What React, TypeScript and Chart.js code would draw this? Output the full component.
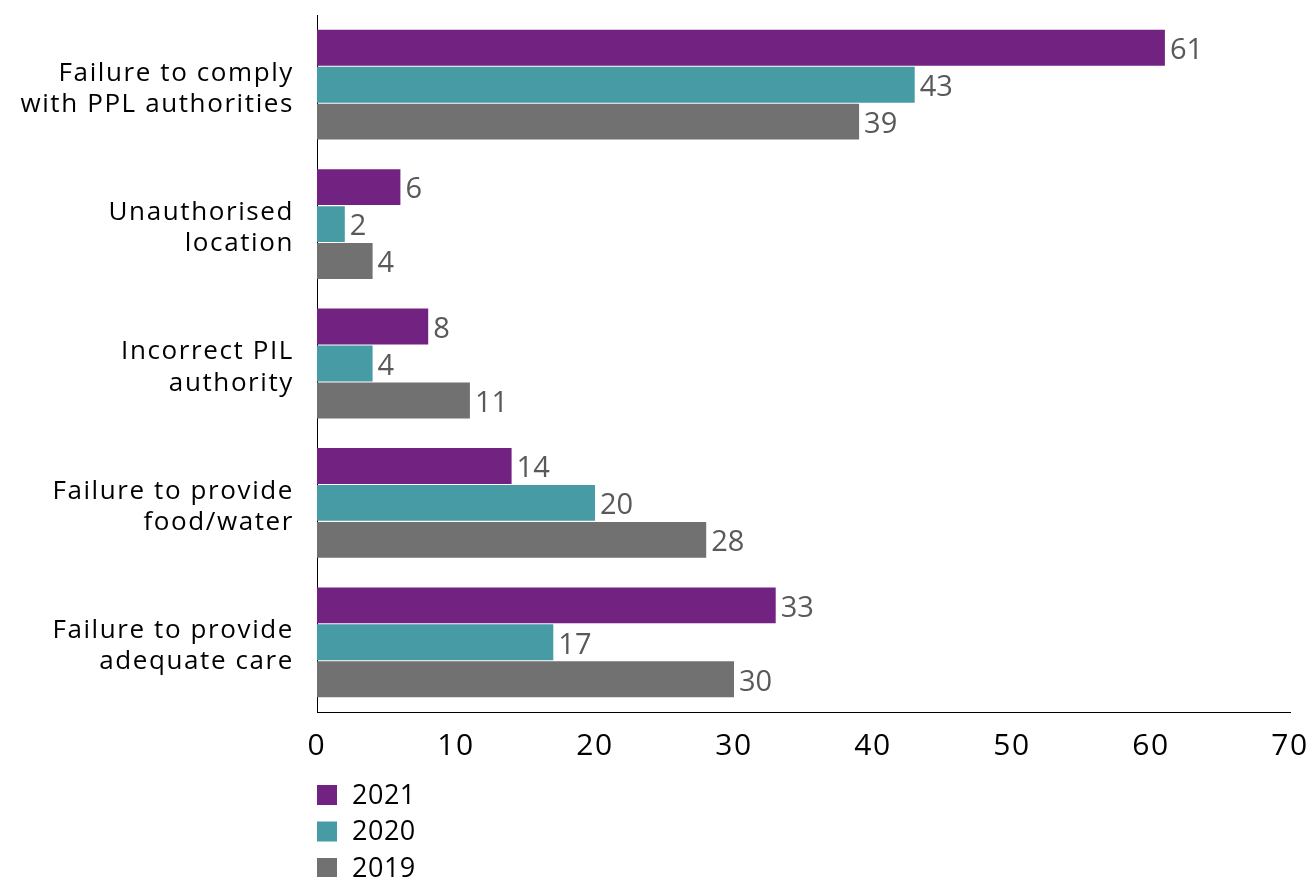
import React, { useEffect, useRef } from "react";
import { Chart, registerables } from "chart.js";

Chart.register(...registerables);

const categories: string[][] = [
  ["Failure to comply", "with PPL authorities"],
  ["Unauthorised", "location"],
  ["Incorrect PIL", "authority"],
  ["Failure to provide", "food/water"],
  ["Failure to provide", "adequate care"],
];
const values2021: number[] = [61, 6, 8, 14, 33];
const values2020: number[] = [43, 2, 4, 20, 17];
const values2019: number[] = [39, 4, 11, 28, 30];
const seriesLabels: string[] = ["2021", "2020", "2019"];
const seriesColors: string[] = ["#722281", "#479BA5", "#717171"];
const xTickMax = 70;
const xTickStep = 10;

const FONT = "'Open Sans', 'DejaVu Sans', sans-serif";

const spacingPlugin = {
  id: "letterSpacing",
  beforeLayout(chart: any) {
    chart.ctx.letterSpacing = "1.6px";
  },
  afterLayout(chart: any) {
    chart.ctx.letterSpacing = "0px";
  },
  beforeDraw(chart: any) {
    chart.ctx.letterSpacing = "1.6px";
  },
  beforeDatasetsDraw(chart: any) {
    chart.ctx.letterSpacing = "0px";
  },
};

const valueLabelPlugin = {
  id: "valueLabels",
  afterDatasetsDraw(chart: any) {
    const ctx = chart.ctx;
    ctx.save();
    ctx.letterSpacing = "0px";
    ctx.font = `29px ${FONT}`;
    ctx.fillStyle = "#595959";
    ctx.textAlign = "left";
    ctx.textBaseline = "middle";
    chart.data.datasets.forEach((ds: any, i: number) => {
      const meta = chart.getDatasetMeta(i);
      meta.data.forEach((bar: any, j: number) => {
        ctx.fillText(String(ds.data[j]), bar.x + 5, bar.y + 3);
      });
    });
    ctx.restore();
  },
};

const legendPlugin = {
  id: "customLegend",
  afterDraw(chart: any) {
    const ctx = chart.ctx;
    const left = chart.chartArea.left;
    const top0 = chart.chartArea.bottom + 83;
    ctx.save();
    ctx.letterSpacing = "0.5px";
    ctx.font = `27px ${FONT}`;
    ctx.textAlign = "left";
    ctx.textBaseline = "middle";
    chart.data.datasets.forEach((ds: any, i: number) => {
      const cy = top0 + i * 36.5;
      ctx.fillStyle = ds.backgroundColor;
      ctx.fillRect(left, cy - 10, 20, 20);
      ctx.fillStyle = "#000000";
      ctx.fillText(ds.label, left + 35, cy + 1);
    });
    ctx.restore();
  },
};

export default function App() {
  const canvasRef = useRef<HTMLCanvasElement | null>(null);

  useEffect(() => {
    if (!canvasRef.current) return;
    const chart = new Chart(canvasRef.current, {
      type: "bar",
      data: {
        labels: categories,
        datasets: [
          { label: seriesLabels[0], data: values2021, backgroundColor: seriesColors[0] },
          { label: seriesLabels[1], data: values2020, backgroundColor: seriesColors[1] },
          { label: seriesLabels[2], data: values2019, backgroundColor: seriesColors[2] },
        ],
      },
      options: {
        indexAxis: "y",
        animation: false,
        responsive: false,
        maintainAspectRatio: false,
        datasets: {
          bar: { categoryPercentage: 0.795, barPercentage: 0.972 },
        },
        layout: { padding: { top: 15, right: 21, left: 0, bottom: 0 } },
        plugins: {
          legend: { display: false },
          tooltip: { enabled: false },
        },
        scales: {
          x: {
            min: 0,
            max: xTickMax,
            ticks: {
              stepSize: xTickStep,
              color: "#000000",
              font: { family: FONT, size: 30 },
              padding: 16,
            },
            grid: { display: false, drawTicks: false },
            border: { display: true, color: "#000000", width: 1 },
            afterFit: (scale: any) => {
              scale.height = 165;
              scale.paddingLeft = 0;
              scale.paddingRight = 0;
            },
          },
          y: {
            ticks: {
              color: "#000000",
              font: { family: FONT, size: 26, lineHeight: 1.2 },
              padding: 23,
              labelOffset: 4,
            },
            grid: { display: false, drawTicks: false },
            border: { display: true, color: "#000000", width: 1 },
            afterFit: (scale: any) => {
              scale.width = 317;
              scale.paddingTop = 0;
              scale.paddingBottom = 0;
            },
          },
        },
      },
      plugins: [spacingPlugin, valueLabelPlugin, legendPlugin],
    });
    return () => chart.destroy();
  }, []);

  return (
    <div style={{ position: "absolute", left: 0, top: 0, width: 1311, height: 877, background: "#ffffff" }}>
      <canvas ref={canvasRef} width={1311} height={877} style={{ width: 1311, height: 877 }} />
    </div>
  );
}
